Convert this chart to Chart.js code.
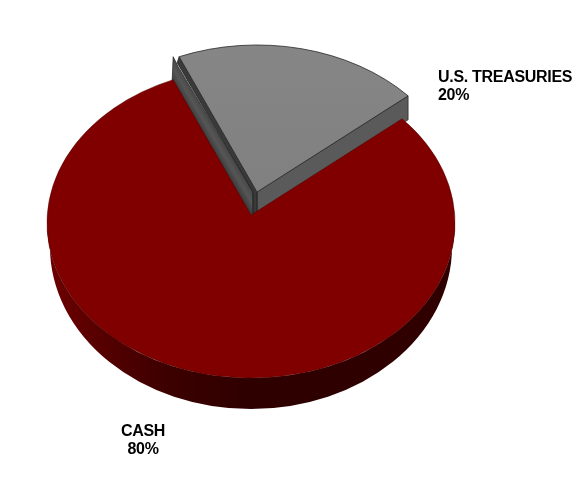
<!DOCTYPE html>
<html>
<head>
<meta charset="utf-8">
<style>html,body{margin:0;padding:0;background:#fff}canvas{display:block}</style>
<script src="https://cdn.jsdelivr.net/npm/chart.js@4"></script>
</head>
<body>
<canvas id="c" width="587" height="487"></canvas>
<script>
const categories = ["CASH", "U.S. TREASURIES"];
const shareValues = [80, 20];
const faceColors = ["#800000", "#808080"];

const style = {
  squash: 155 / 204, tipLift: 8, angleSqueeze: 0.975,
  lower: {rx: 201, dy: 24, ry: 162},
  explode: {x: 6, y: -23},
  wallDrop: 24,
  labelFont: 'bold 16px "Liberation Sans", Arial, sans-serif'
};

// far-side angles look slightly tighter in the tilted view
function squeeze(t) {
  const top = -Math.PI / 2;
  let d = t - top;
  while (d > Math.PI) d -= 2 * Math.PI;
  while (d < -Math.PI) d += 2 * Math.PI;
  return top + d * style.angleSqueeze;
}
function faceAt(el, t, shift) {
  const ry = el.outerRadius * style.squash;
  const a = squeeze(t);
  return {x: el.x + shift.x + el.outerRadius * Math.cos(a), y: el.y + shift.y + ry * Math.sin(a)};
}
function poly(ctx, pts, fill, stroke) {
  ctx.beginPath();
  pts.forEach((p, i) => i ? ctx.lineTo(p.x, p.y) : ctx.moveTo(p.x, p.y));
  ctx.closePath();
  if (fill) { ctx.fillStyle = fill; ctx.fill(); }
  if (stroke) { ctx.strokeStyle = stroke; ctx.lineWidth = 0.8; ctx.stroke(); }
}
function wedge(ctx, el, a0, a1, shift, fill, stroke, width) {
  const ry = el.outerRadius * style.squash;
  ctx.beginPath();
  ctx.moveTo(el.x + shift.x, el.y + shift.y - style.tipLift);
  ctx.ellipse(el.x + shift.x, el.y + shift.y, el.outerRadius, ry, 0, a0, a1);
  ctx.closePath();
  ctx.fillStyle = fill; ctx.fill();
  ctx.strokeStyle = stroke; ctx.lineWidth = width; ctx.stroke();
}
const off = (p, x, y) => ({x: p.x + x, y: p.y + y});

const pie3d = {
  id: "pie3d",
  beforeDatasetsDraw(chart) {
    const ctx = chart.ctx;
    const [cash, tsy] = chart.getDatasetMeta(0).data;
    const ry = cash.outerRadius * style.squash;
    const none = {x: 0, y: 0};

    // rim of the large slice
    const rim = ctx.createLinearGradient(cash.x - cash.outerRadius, 0, cash.x + cash.outerRadius, 0);
    rim.addColorStop(0, "#6e0000");
    rim.addColorStop(0.12, "#580000");
    rim.addColorStop(0.3, "#3c0000");
    rim.addColorStop(0.5, "#2e0000");
    rim.addColorStop(1, "#300000");
    ctx.beginPath();
    ctx.ellipse(cash.x, cash.y + style.lower.dy, style.lower.rx, style.lower.ry, 0, 0, Math.PI);
    ctx.ellipse(cash.x, cash.y, cash.outerRadius, ry, 0, Math.PI, 0, true);
    ctx.closePath();
    ctx.fillStyle = rim; ctx.fill();

    // walls of the pulled-out slice
    const tip = {x: tsy.x + style.explode.x, y: tsy.y + style.explode.y - style.tipLift};
    const left = faceAt(tsy, tsy.startAngle, style.explode);
    const right = faceAt(tsy, tsy.endAngle, style.explode);
    const cashTip = {x: cash.x, y: cash.y - style.tipLift};

    poly(ctx, [right, off(right, 0, style.wallDrop), off(tip, 0, 20), tip], "#5a5a5a", "#2a2a2a");
    const g = ctx.createLinearGradient(cashTip.x, cashTip.y, cashTip.x + 11.2, cashTip.y - 6.6);
    g.addColorStop(0, "#3a3a3a");
    g.addColorStop(0.55, "#565656");
    g.addColorStop(1, "#484848");
    poly(ctx, [off(left, -6, 0), off(left, -7, 24), cashTip, off(tip, -4, 22), off(tip, -4, 0), off(left, -1, 10)], g, "#2a2a2a");
    poly(ctx, [left, tip, off(tip, 0, 20), off(tip, -4, 22), off(tip, -4, 0), off(left, -2, 6)], "#3a3a3a", "#1e1e1e");

    // top faces
    wedge(ctx, cash, squeeze(cash.startAngle), squeeze(cash.startAngle) + 2 * Math.PI - (squeeze(tsy.endAngle) - squeeze(tsy.startAngle)), none, cash.options.backgroundColor, "#500000", 0.5);
    const top = ctx.createLinearGradient(0, tip.y - 150, 0, tip.y);
    top.addColorStop(0, "#868686");
    top.addColorStop(1, tsy.options.backgroundColor);
    wedge(ctx, tsy, squeeze(tsy.startAngle), squeeze(tsy.endAngle), style.explode, top, "#2a2a2a", 0.8);

    // labels
    ctx.fillStyle = "#000";
    ctx.font = style.labelFont;
    ctx.letterSpacing = "-0.3px";
    ctx.textBaseline = "middle";
    ctx.textAlign = "left";
    ctx.fillText(categories[1], 438, 78);
    ctx.fillText(shareValues[1] + "%", 438, 96);
    ctx.textAlign = "center";
    ctx.fillText(categories[0], 143, 432);
    ctx.fillText(shareValues[0] + "%", 143, 450);
    return false;
  }
};

new Chart(document.getElementById("c"), {
  type: "pie",
  data: {labels: categories, datasets: [{data: shareValues, backgroundColor: faceColors, borderWidth: 0}]},
  options: {
    responsive: false,
    devicePixelRatio: 1,
    animation: false,
    rotation: 49,
    layout: {padding: {left: 47, right: 132, top: 19, bottom: 60}},
    plugins: {legend: {display: false}, tooltip: {enabled: false}}
  },
  plugins: [pie3d]
});
</script>
</body>
</html>
